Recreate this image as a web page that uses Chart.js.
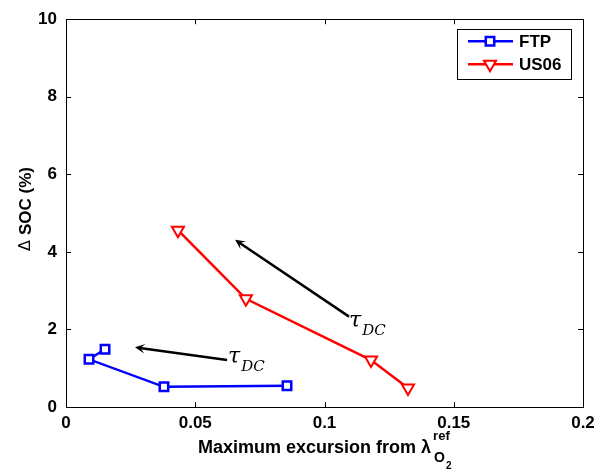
<!DOCTYPE html>
<html>
<head>
<meta charset="utf-8">
<script src="https://cdn.jsdelivr.net/npm/chart.js@4.4.1/dist/chart.umd.min.js"></script>
<style>
  html, body { margin: 0; padding: 0; background: #fff; }
  #wrap { width: 615px; height: 474px; position: relative; }
</style>
</head>
<body>
<div id="wrap"><canvas id="myChart" width="615" height="474"></canvas></div>
<script>
// axis ticks
const xTicks = [0, 0.05, 0.1, 0.15, 0.2];
const yTicks = [0, 2, 4, 6, 8, 10];

// series (x = max excursion, y = delta SOC %)
const ftpX = [0.0151, 0.0089, 0.0379, 0.0855];
const ftpY = [1.49, 1.23, 0.52, 0.55];
const us06X = [0.0433, 0.0696, 0.118, 0.1323];
const us06Y = [4.56, 2.79, 1.21, 0.49];

// tau_DC arrows: [fromX, fromY, toX, toY]
const arrowUS06 = [0.1095, 2.33, 0.0654, 4.31];
const arrowFTP = [0.0623, 1.21, 0.0267, 1.54];
// label anchors (left, baseline)
const labelUS06 = [0.1095, 1.95];
const labelFTP = [0.0627, 1.03];

const FONT = "'Liberation Sans', Arial, Helvetica, sans-serif";

function toPoints(xs, ys) {
  return xs.map((x, i) => ({ x: x, y: ys[i] }));
}

// box, inner ticks, arrows, labels, legend, axis titles
const decorPlugin = {
  id: "decor",
  afterDraw(chart) {
    const ctx = chart.ctx;
    const a = chart.chartArea;
    const xs = chart.scales.x;
    const ys = chart.scales.y;
    ctx.save();

    // box
    ctx.strokeStyle = "#000";
    ctx.lineWidth = 1;
    ctx.strokeRect(Math.round(a.left) + 0.5, Math.round(a.top) + 0.5,
      Math.round(a.right - a.left), Math.round(a.bottom - a.top));

    // ticks pointing inward
    const tl = 5;
    ctx.beginPath();
    xTicks.forEach((v) => {
      const px = Math.round(xs.getPixelForValue(v)) + 0.5;
      ctx.moveTo(px, a.bottom); ctx.lineTo(px, a.bottom - tl);
      ctx.moveTo(px, a.top); ctx.lineTo(px, a.top + tl);
    });
    yTicks.forEach((v) => {
      const py = Math.round(ys.getPixelForValue(v)) + 0.5;
      ctx.moveTo(a.left, py); ctx.lineTo(a.left + tl, py);
      ctx.moveTo(a.right, py); ctx.lineTo(a.right - tl, py);
    });
    ctx.stroke();

    // arrows
    function arrow(arr) {
      const x1 = xs.getPixelForValue(arr[0]), y1 = ys.getPixelForValue(arr[1]);
      const x2 = xs.getPixelForValue(arr[2]), y2 = ys.getPixelForValue(arr[3]);
      const ang = Math.atan2(y2 - y1, x2 - x1);
      ctx.strokeStyle = "#000";
      ctx.lineWidth = 2.5;
      ctx.beginPath();
      ctx.moveTo(x1, y1);
      ctx.lineTo(x2 - 3 * Math.cos(ang), y2 - 3 * Math.sin(ang));
      ctx.stroke();
      const hl = 11, hw = 0.45;
      ctx.fillStyle = "#000";
      ctx.beginPath();
      ctx.moveTo(x2, y2);
      ctx.lineTo(x2 - hl * Math.cos(ang - hw), y2 - hl * Math.sin(ang - hw));
      ctx.lineTo(x2 - 0.5 * hl * Math.cos(ang), y2 - 0.5 * hl * Math.sin(ang));
      ctx.lineTo(x2 - hl * Math.cos(ang + hw), y2 - hl * Math.sin(ang + hw));
      ctx.closePath();
      ctx.fill();
    }
    arrow(arrowUS06);
    arrow(arrowFTP);

    // tau_DC labels
    function tau(lbl) {
      const x = xs.getPixelForValue(lbl[0]), y = ys.getPixelForValue(lbl[1]);
      ctx.fillStyle = "#000";
      ctx.textAlign = "left";
      ctx.textBaseline = "alphabetic";
      ctx.font = "italic 22px 'DejaVu Serif', 'Liberation Serif', serif";
      ctx.fillText("\u03c4", x, y - 4);
      const w = ctx.measureText("\u03c4").width;
      ctx.font = "italic 15px 'DejaVu Serif', 'Liberation Serif', serif";
      ctx.fillText("DC", x + w + 1, y + 4);
    }
    tau(labelUS06);
    tau(labelFTP);

    // legend
    const lx = a.right - 126, ly = a.top + 10, lw = 114, lh = 50;
    ctx.fillStyle = "#fff";
    ctx.fillRect(lx, ly, lw, lh);
    ctx.strokeStyle = "#000";
    ctx.lineWidth = 1;
    ctx.strokeRect(Math.round(lx) + 0.5, Math.round(ly) + 0.5, lw, lh);
    chart.data.datasets.forEach((ds, i) => {
      const ry = ly + 12 + i * 23;
      ctx.strokeStyle = ds.borderColor;
      ctx.lineWidth = ds.borderWidth;
      ctx.beginPath();
      ctx.moveTo(lx + 11, ry); ctx.lineTo(lx + 56, ry);
      ctx.stroke();
      ctx.fillStyle = ds.pointBackgroundColor;
      ctx.strokeStyle = ds.borderColor;
      ctx.lineWidth = ds.pointBorderWidth;
      Chart.helpers.drawPoint(ctx, {
        pointStyle: ds.pointStyle, rotation: ds.pointRotation || 0,
        radius: ds.pointRadius, borderWidth: ds.pointBorderWidth
      }, lx + 33, ry);
      ctx.fillStyle = "#000";
      ctx.font = "bold 17px " + FONT;
      ctx.textAlign = "left";
      ctx.textBaseline = "middle";
      ctx.fillText(ds.label, lx + 62, ry + 1);
    });

    // x title with lambda_O2^ref
    ctx.fillStyle = "#000";
    ctx.textBaseline = "alphabetic";
    ctx.textAlign = "left";
    const main = "Maximum excursion from \u03bb";
    ctx.font = "bold 18px " + FONT;
    const mw = ctx.measureText(main).width;
    ctx.font = "bold 14px " + FONT;
    const rw = ctx.measureText("ref").width;
    const total = mw + 2 + rw;
    const tx = (a.left + a.right) / 2 - total / 2;
    const tb = 453;
    ctx.font = "bold 18px " + FONT;
    ctx.fillText(main, tx, tb);
    ctx.font = "bold 13px " + FONT;
    ctx.fillText("ref", tx + mw + 2, tb - 13);
    ctx.font = "bold 14px " + FONT;
    ctx.fillText("O", tx + mw + 3, tb + 9);
    ctx.font = "bold 10px " + FONT;
    ctx.fillText("2", tx + mw + 15, tb + 16);

    // y title
    ctx.translate(26, (a.top + a.bottom) / 2 - 4);
    ctx.rotate(-Math.PI / 2);
    ctx.font = "16px 'DejaVu Sans', sans-serif";
    const dw = ctx.measureText("\u0394 ").width;
    ctx.font = "bold 17px " + FONT;
    const sw = ctx.measureText("SOC (%)").width;
    const sx = -(dw + sw) / 2;
    ctx.textBaseline = "middle";
    ctx.font = "16px 'DejaVu Sans', sans-serif";
    ctx.fillText("\u0394", sx, 0);
    ctx.font = "bold 17px " + FONT;
    ctx.fillText("SOC (%)", sx + dw, 0);

    ctx.restore();
  }
};

const config = {
  type: "line",
  data: {
    datasets: [
      {
        label: "FTP",
        data: toPoints(ftpX, ftpY),
        borderColor: "#0000ff",
        backgroundColor: "#0000ff",
        pointBackgroundColor: "#ffffff",
        borderWidth: 2.5,
        pointStyle: "rect",
        pointRadius: 6,
        pointBorderWidth: 2.5,
        tension: 0,
      },
      {
        label: "US06",
        data: toPoints(us06X, us06Y),
        borderColor: "#ff0000",
        backgroundColor: "#ff0000",
        pointBackgroundColor: "#ffffff",
        borderWidth: 2.5,
        pointStyle: "triangle",
        pointRotation: 180,
        pointRadius: 7,
        pointBorderWidth: 2,
        tension: 0,
      },
    ],
  },
  options: {
    responsive: false,
    animation: false,
    layout: { padding: { top: 17, right: 32, left: 0, bottom: 0 } },
    plugins: {
      legend: { display: false },
      tooltip: { enabled: false },
    },
    scales: {
      x: {
        type: "linear",
        min: 0,
        max: 0.2,
        afterBuildTicks: (axis) => { axis.ticks = xTicks.map((v) => ({ value: v })); },
        afterFit: (axis) => { axis.height = 67; },
        grid: { display: false, drawTicks: false },
        border: { display: false },
        ticks: {
          padding: 6,
          color: "#000",
          font: { family: FONT, size: 17, weight: "bold" },
          maxRotation: 0,
          callback: (v) => String(+v.toFixed(2)),
        },
      },
      y: {
        type: "linear",
        min: 0,
        max: 10,
        afterBuildTicks: (axis) => { axis.ticks = yTicks.map((v) => ({ value: v })); },
        afterFit: (axis) => { axis.width = 66; },
        grid: { display: false, drawTicks: false },
        border: { display: false },
        ticks: {
          padding: 9,
          color: "#000",
          font: { family: FONT, size: 17, weight: "bold" },
        },
      },
    },
  },
  plugins: [decorPlugin],
};

const ctx = document.getElementById("myChart").getContext("2d");
new Chart(ctx, config);
</script>
</body>
</html>
